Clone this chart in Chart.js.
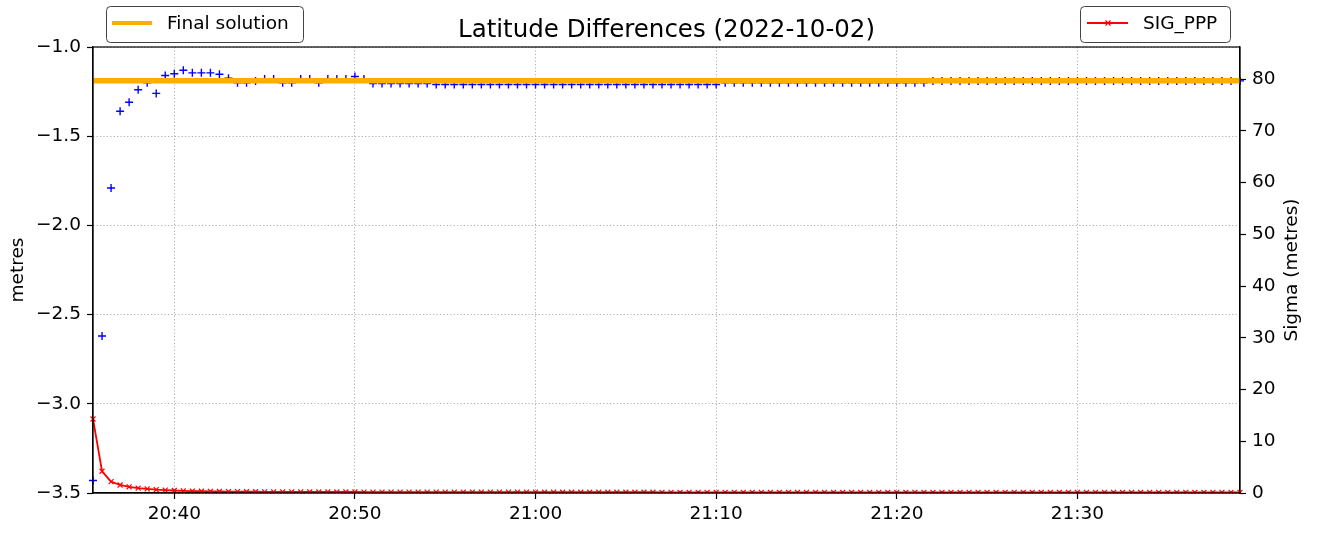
<!DOCTYPE html>
<html>
<head>
<meta charset="utf-8">
<script src="https://cdn.jsdelivr.net/npm/chart.js"></script>
<style>
  html, body { margin: 0; padding: 0; background: #fff; }
  canvas { display: block; }
</style>
</head>
<body>
<canvas id="latChart" width="1318" height="533"></canvas>
<script>
// epoch times (30 s steps)
const timeLabels = [
  '20:35:30',
  '20:36:00','20:36:30','20:37:00','20:37:30','20:38:00','20:38:30','20:39:00','20:39:30',
  '20:40:00','20:40:30','20:41:00','20:41:30','20:42:00','20:42:30','20:43:00','20:43:30','20:44:00','20:44:30',
  '20:45:00','20:45:30','20:46:00','20:46:30','20:47:00','20:47:30','20:48:00','20:48:30','20:49:00','20:49:30',
  '20:50:00','20:50:30','20:51:00','20:51:30','20:52:00','20:52:30','20:53:00','20:53:30','20:54:00','20:54:30',
  '20:55:00','20:55:30','20:56:00','20:56:30','20:57:00','20:57:30','20:58:00','20:58:30','20:59:00','20:59:30',
  '21:00:00','21:00:30','21:01:00','21:01:30','21:02:00','21:02:30','21:03:00','21:03:30','21:04:00','21:04:30',
  '21:05:00','21:05:30','21:06:00','21:06:30','21:07:00','21:07:30','21:08:00','21:08:30','21:09:00','21:09:30',
  '21:10:00','21:10:30','21:11:00','21:11:30','21:12:00','21:12:30','21:13:00','21:13:30','21:14:00','21:14:30',
  '21:15:00','21:15:30','21:16:00','21:16:30','21:17:00','21:17:30','21:18:00','21:18:30','21:19:00','21:19:30',
  '21:20:00','21:20:30','21:21:00','21:21:30','21:22:00','21:22:30','21:23:00','21:23:30','21:24:00','21:24:30',
  '21:25:00','21:25:30','21:26:00','21:26:30','21:27:00','21:27:30','21:28:00','21:28:30','21:29:00','21:29:30',
  '21:30:00','21:30:30','21:31:00','21:31:30','21:32:00','21:32:30','21:33:00','21:33:30','21:34:00','21:34:30',
  '21:35:00','21:35:30','21:36:00','21:36:30','21:37:00','21:37:30','21:38:00','21:38:30','21:39:00'
];

// latitude difference (metres)
const latDiff = [
  -3.43, -2.62, -1.79, -1.36, -1.31, -1.24, -1.20, -1.26, -1.16, -1.15,
  -1.13, -1.145, -1.145, -1.145, -1.153, -1.175, -1.200, -1.200, -1.190, -1.180,
  -1.180, -1.200, -1.200, -1.180, -1.180, -1.200, -1.180, -1.180, -1.180, -1.165,
  -1.180, -1.205, -1.205, -1.205, -1.205, -1.205, -1.205, -1.205, -1.210, -1.210,
  -1.21, -1.21, -1.21, -1.21, -1.21, -1.21, -1.21, -1.21, -1.21, -1.21,
  -1.21, -1.21, -1.21, -1.21, -1.21, -1.21, -1.21, -1.21, -1.21, -1.21,
  -1.21, -1.21, -1.21, -1.21, -1.21, -1.21, -1.21, -1.21, -1.21, -1.21,
  -1.20, -1.20, -1.20, -1.20, -1.20, -1.20, -1.20, -1.20, -1.20, -1.20,
  -1.20, -1.20, -1.20, -1.20, -1.20, -1.20, -1.20, -1.20, -1.20, -1.20,
  -1.20, -1.20, -1.20, -1.19, -1.19, -1.19, -1.19, -1.19, -1.19, -1.19,
  -1.19, -1.19, -1.19, -1.19, -1.19, -1.19, -1.19, -1.19, -1.19, -1.19,
  -1.19, -1.19, -1.19, -1.19, -1.19, -1.19, -1.19, -1.19, -1.19, -1.19,
  -1.19, -1.19, -1.19, -1.19, -1.19, -1.19, -1.19, -1.19
];

// SIG_PPP sigma (metres)
const sigmaPPP = [
  14.3, 4.2, 2.2, 1.55, 1.2, 0.95, 0.8, 0.65, 0.55, 0.48,
  0.42, 0.38, 0.35, 0.32, 0.30, 0.28, 0.26, 0.25, 0.24, 0.23,
  0.22, 0.22, 0.21, 0.21, 0.20, 0.20, 0.20, 0.19, 0.19, 0.19,
  0.18, 0.18, 0.18, 0.18, 0.17, 0.17, 0.17, 0.17, 0.17, 0.16,
  0.16, 0.16, 0.16, 0.16, 0.16, 0.16, 0.16, 0.16, 0.16, 0.16,
  0.15, 0.15, 0.15, 0.15, 0.15, 0.15, 0.15, 0.15, 0.15, 0.15,
  0.15, 0.15, 0.15, 0.14, 0.14, 0.14, 0.14, 0.14, 0.14, 0.14,
  0.14, 0.14, 0.14, 0.14, 0.14, 0.14, 0.14, 0.14, 0.14, 0.14,
  0.14, 0.14, 0.13, 0.13, 0.13, 0.13, 0.13, 0.13, 0.13, 0.13,
  0.13, 0.13, 0.13, 0.13, 0.13, 0.13, 0.13, 0.13, 0.13, 0.13,
  0.13, 0.13, 0.13, 0.13, 0.13, 0.13, 0.13, 0.13, 0.13, 0.13,
  0.12, 0.12, 0.12, 0.12, 0.12, 0.12, 0.12, 0.12, 0.12, 0.12,
  0.12, 0.12, 0.12, 0.12, 0.12, 0.12, 0.12, 0.12
];

const finalSolution = -1.189;

const timeTicks = ['20:40', '20:50', '21:00', '21:10', '21:20', '21:30'];
const latTicks = [-3.5, -3.0, -2.5, -2.0, -1.5, -1.0];
const sigmaTicks = [0, 10, 20, 30, 40, 50, 60, 70, 80];

const FONT = 'DejaVu Sans';

function roundBox(ctx, x, y, w, h, r) {
    ctx.beginPath();
    ctx.moveTo(x + r, y);
    ctx.arcTo(x + w, y, x + w, y + h, r);
    ctx.arcTo(x + w, y + h, x, y + h, r);
    ctx.arcTo(x, y + h, x, y, r);
    ctx.arcTo(x, y, x + w, y, r);
    ctx.closePath();
    ctx.fillStyle = 'rgba(255,255,255,0.8)';
    ctx.fill();
    ctx.strokeStyle = '#444';
    ctx.lineWidth = 1;
    ctx.stroke();
}

// title, frame, right axis label and the two separate legends
const extras = {
    id: 'extras',
    afterDraw(chart) {
        const ctx = chart.ctx;
        const a = chart.chartArea;
        ctx.save();
        ctx.strokeStyle = '#000';
        ctx.lineWidth = 1.2;
        ctx.strokeRect(a.left, a.top, a.right - a.left, a.bottom - a.top);

        ctx.fillStyle = '#000';
        ctx.font = '24.5px "' + FONT + '"';
        ctx.textAlign = 'center';
        ctx.textBaseline = 'middle';
        ctx.fillText('Latitude Differences (2022-10-02)', (a.left + a.right) / 2, 31);

        // right axis title, reading bottom to top
        ctx.save();
        ctx.translate(1292, (a.top + a.bottom) / 2);
        ctx.rotate(-Math.PI / 2);
        ctx.font = '18.5px "' + FONT + '"';
        ctx.fillText('Sigma (metres)', 0, 0);
        ctx.restore();

        const ds = chart.data.datasets;
        // left legend: Final solution
        roundBox(ctx, 106.5, 6.5, 197, 36, 4);
        ctx.strokeStyle = ds[1].borderColor;
        ctx.lineWidth = 4;
        ctx.beginPath();
        ctx.moveTo(112, 23);
        ctx.lineTo(152, 23);
        ctx.stroke();
        ctx.fillStyle = '#000';
        ctx.font = '18.5px "' + FONT + '"';
        ctx.textAlign = 'left';
        ctx.fillText(ds[1].label, 167, 24);

        // right legend: SIG_PPP
        roundBox(ctx, 1080.5, 6.5, 150, 36, 4);
        ctx.strokeStyle = ds[0].borderColor;
        ctx.lineWidth = 1.8;
        ctx.beginPath();
        ctx.moveTo(1087, 23);
        ctx.lineTo(1128, 23);
        ctx.stroke();
        ctx.lineWidth = 1.2;
        ctx.beginPath();
        ctx.moveTo(1105.5, 20.5); ctx.lineTo(1110.5, 25.5);
        ctx.moveTo(1110.5, 20.5); ctx.lineTo(1105.5, 25.5);
        ctx.stroke();
        ctx.fillStyle = '#000';
        ctx.fillText(ds[0].label, 1143, 24);
        ctx.restore();
    }
};

const gridDots = {
    color: '#a6a6a6',
    lineWidth: 0.9,
    tickColor: '#000',
    tickWidth: 1.2,
    tickLength: 6,
    tickBorderDash: []
};
const axisBorder = { display: true, color: '#000', width: 1.2, dash: [1.2, 2.2] };

const ctx = document.getElementById('latChart').getContext('2d');
const latChart = new Chart(ctx, {
    type: 'line',
    data: {
        labels: timeLabels,
        datasets: [
            {
                label: 'SIG_PPP',
                data: sigmaPPP,
                yAxisID: 'ySig',
                borderColor: '#ff0000',
                backgroundColor: '#ff0000',
                borderWidth: 1.8,
                pointStyle: 'crossRot',
                pointRadius: 3.5,
                pointBorderWidth: 1.2,
                pointBorderColor: '#ff0000',
                tension: 0,
                order: 0
            },
            {
                label: 'Final solution',
                data: timeLabels.map(() => finalSolution),
                yAxisID: 'yLat',
                borderColor: '#ffad00',
                borderWidth: 5.5,
                pointRadius: 0,
                order: 1
            },
            {
                label: 'Latitude',
                data: latDiff,
                yAxisID: 'yLat',
                showLine: false,
                borderColor: '#0000ff',
                pointStyle: 'cross',
                pointRadius: 4,
                pointBorderWidth: 1.4,
                pointBorderColor: '#0000ff',
                order: 2
            }
        ]
    },
    options: {
        responsive: false,
        animation: false,
        devicePixelRatio: 1,
        layout: { padding: { top: 47, left: 0, right: 0, bottom: 0 } },
        plugins: {
            legend: { display: false },
            title: { display: false },
            tooltip: { enabled: false }
        },
        scales: {
            x: {
                type: 'category',
                ticks: {
                    autoSkip: false,
                    maxRotation: 0,
                    padding: 4,
                    color: '#000',
                    font: { family: FONT, size: 18.5 },
                    callback: (v) => timeLabels[v].slice(0, 5)
                },
                grid: gridDots,
                border: axisBorder,
                afterBuildTicks: (scale) => {
                    scale.ticks = timeTicks.map(t => ({ value: timeLabels.indexOf(t + ':00') }));
                },
                afterFit: (scale) => { scale.height = 40; }
            },
            yLat: {
                type: 'linear',
                position: 'left',
                min: -3.5,
                max: -1.0,
                ticks: {
                    padding: 6,
                    color: '#000',
                    font: { family: FONT, size: 18.5 },
                    callback: (v) => v.toFixed(1).replace('-', '\u2212')
                },
                grid: gridDots,
                border: axisBorder,
                title: {
                    display: true,
                    text: 'metres',
                    color: '#000',
                    font: { family: FONT, size: 18.5 },
                    padding: { top: 7, bottom: 0 }
                },
                afterBuildTicks: (scale) => {
                    scale.ticks = latTicks.map(v => ({ value: v }));
                },
                afterFit: (scale) => { scale.width = 93; }
            },
            ySig: {
                type: 'linear',
                position: 'right',
                min: 0,
                max: 86.2,
                ticks: {
                    padding: 6,
                    color: '#000',
                    font: { family: FONT, size: 18.5 },
                    callback: (v) => String(v)
                },
                grid: {
                    drawOnChartArea: false,
                    tickColor: '#000',
                    tickWidth: 1.2,
                    tickLength: 6
                },
                border: { display: true, color: '#000', width: 1.2 },
                afterBuildTicks: (scale) => {
                    scale.ticks = sigmaTicks.map(v => ({ value: v }));
                },
                afterFit: (scale) => { scale.width = 78; }
            }
        }
    },
    plugins: [extras]
});
</script>
</body>
</html>
